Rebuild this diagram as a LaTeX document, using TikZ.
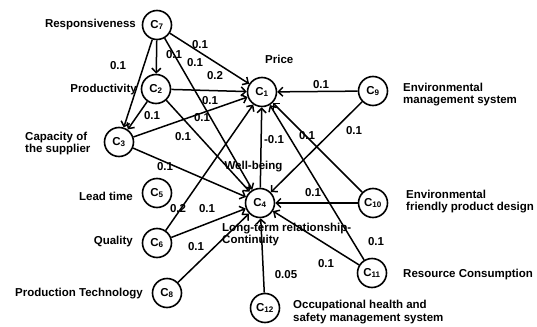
\documentclass[tikz,border=0pt]{standalone}
\usepackage{fontspec}
\setmainfont{Liberation Sans}
\usetikzlibrary{arrows.meta}
\begin{document}
\begin{tikzpicture}[x=1pt,y=-1pt,
  font=\fontsize{11.5}{12.8}\selectfont\bfseries,
  cnode/.style={circle,draw,line width=1.6pt,minimum size=29pt,inner sep=0pt,fill=white},
  arr/.style={line width=1.5pt,-{Straight Barb[length=4.5pt,width=9pt,line width=1.5pt]}},
  wlbl/.style={inner sep=0pt},
  txt/.style={inner sep=0pt,align=left}]
\useasboundingbox (0,0) rectangle (537,326);
% nodes
\node[cnode] (c1) at (262,92) {C\textsubscript{1}};
\node[cnode] (c2) at (156,89) {C\textsubscript{2}};
\node[cnode] (c3) at (119,142) {C\textsubscript{3}};
\node[cnode] (c4) at (260,203) {C\textsubscript{4}};
\node[cnode] (c5) at (157,193) {C\textsubscript{5}};
\node[cnode] (c6) at (157,243) {C\textsubscript{6}};
\node[cnode] (c7) at (157,25) {C\textsubscript{7}};
\node[cnode] (c8) at (167,293) {C\textsubscript{8}};
\node[cnode] (c9) at (373,91) {C\textsubscript{9}};
\node[cnode] (c10) at (373,203) {C\textsubscript{10}};
\node[cnode] (c11) at (372,273) {C\textsubscript{11}};
\node[cnode] (c12) at (265,308) {C\textsubscript{12}};
% text labels
\node[txt,anchor=east] (t7) at (136,25) {Responsiveness};
\node[txt,anchor=east] (t2) at (137,90) {Productivity};
\node[txt,anchor=west] (t3) at (25,143.5) {Capacity of\\the supplier};
\node[txt,anchor=west] (t1) at (265,59) {Price};
\node[txt,anchor=west] (t9) at (403,94.5) {Environmental\\management system};
\node[txt,anchor=east] (t5) at (133,196) {Lead time};
\node[txt,anchor=east] (t6) at (133,242) {Quality};
\node[txt,anchor=east] (t8) at (143,294) {Production Technology};
\node[txt,anchor=west] (t10) at (406,201.5) {Environmental\\friendly product design};
\node[txt,anchor=west] (t11) at (403,275) {Resource Consumption};
\node[txt,anchor=west] (t12) at (293,312) {Occupational health and\\safety management system};
% edges
\draw[arr] (c7) -- (c1);
\draw[arr] (c7) -- (c2);
\draw[arr] (c7) -- (c3);
\draw[arr] (c7) -- (c4);
\draw[arr] (c2) -- (c1);
\draw[arr] (c2) -- (c3);
\draw[arr] (c2) -- (c4);
\draw[arr] (c3) -- (c1);
\draw[arr] (c3) -- (c4);
\draw[arr] (c6) -- (c1);
\draw[arr] (c6) -- (c4);
\draw[arr] (c8) -- (c4);
\draw[arr] (c9) -- (c1);
\draw[arr] (c9) -- (c4);
\draw[arr] (c4) -- (c1);
\draw[arr] (c10) -- (c1);
\draw[arr] (c10) -- (c4);
\draw[arr] (c11) -- (c1);
\draw[arr] (c11) -- (c4);
\draw[arr] (c12) -- (c4);
% texts drawn over lines
\node[txt] (t4a) at (253.5,167) {Well-being};
\node[txt,anchor=west] (t4b) at (222,234.5) {Long-term relationship-\\Continuity};
% weights
\node[wlbl] (w1) at (200,45) {0.1};
\node[wlbl] (w2) at (174,55) {0.1};
\node[wlbl] (w3) at (195,63) {0.1};
\node[wlbl] (w4) at (118,66) {0.1};
\node[wlbl] (w5) at (215,76) {0.2};
\node[wlbl] (w6) at (210,101) {0.1};
\node[wlbl] (w7) at (152,116) {0.1};
\node[wlbl] (w8) at (202,118) {0.1};
\node[wlbl] (w9) at (183,137) {0.1};
\node[wlbl] (w10) at (165,167) {0.1};
\node[wlbl] (w11) at (321,85) {0.1};
\node[wlbl] (w12) at (354,131) {0.1};
\node[wlbl] (w13) at (274,140) {-0.1};
\node[wlbl] (w14) at (307,136) {0.1};
\node[wlbl] (w15) at (313,193) {0.1};
\node[wlbl] (w16) at (376,242) {0.1};
\node[wlbl] (w17) at (326,264) {0.1};
\node[wlbl] (w18) at (286,275) {0.05};
\node[wlbl] (w19) at (178,209) {0.2};
\node[wlbl] (w20) at (207,209) {0.1};
\node[wlbl] (w21) at (196,247) {0.1};
\end{tikzpicture}
\end{document}
